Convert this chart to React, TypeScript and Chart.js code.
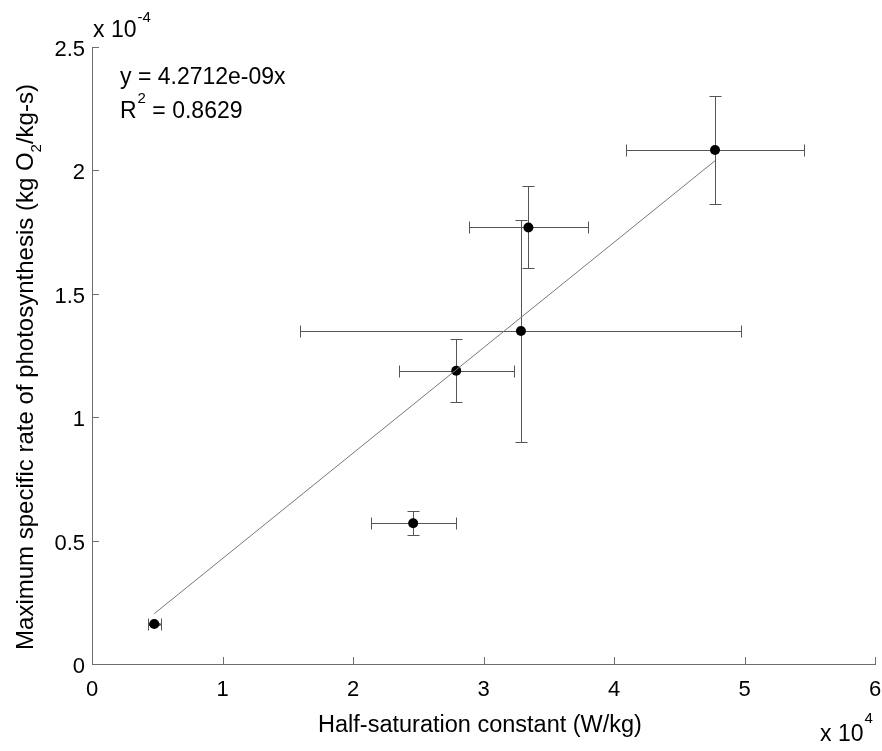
import React, { useEffect, useRef } from "react";
import { Chart, registerables } from "chart.js";

Chart.register(...registerables);

// Data in axis units (x in 1e4 W/kg, y in 1e-4 kg O2/kg-s)
const halfSat = [0.477, 2.461, 2.791, 3.287, 3.344, 4.774];
const maxRate = [0.162, 0.570, 1.188, 1.349, 1.769, 2.083];
const halfSatErr = [0.048, 0.326, 0.442, 1.69, 0.455, 0.682];
const maxRateErr = [0.004, 0.048, 0.127, 0.449, 0.166, 0.22];
const fitSlope = 0.42712; // 4.2712e-09 in scaled units
const xTicks = [0, 1, 2, 3, 4, 5, 6];
const yTicks = [0, 0.5, 1, 1.5, 2, 2.5];
const yTickLabels = ["0", "0.5", "1", "1.5", "2", "2.5"];
const xTickLabels = ["0", "1", "2", "3", "4", "5", "6"];

const FONT = '"Liberation Sans", Arial, sans-serif';

const overlayPlugin = {
  id: "overlay",
  beforeDatasetsDraw(chart: any) {
    const ctx = chart.ctx;
    const xs = chart.scales.x;
    const ys = chart.scales.y;
    ctx.save();
    ctx.strokeStyle = "#555";
    ctx.lineWidth = 1;
    const cap = 6;
    for (let i = 0; i < halfSat.length; i++) {
      const px = Math.round(xs.getPixelForValue(halfSat[i])) + 0.5;
      const py = Math.round(ys.getPixelForValue(maxRate[i])) + 0.5;
      const xl = Math.round(xs.getPixelForValue(halfSat[i] - halfSatErr[i])) + 0.5;
      const xr = Math.round(xs.getPixelForValue(halfSat[i] + halfSatErr[i])) + 0.5;
      const yt = Math.round(ys.getPixelForValue(maxRate[i] + maxRateErr[i])) + 0.5;
      const yb = Math.round(ys.getPixelForValue(maxRate[i] - maxRateErr[i])) + 0.5;
      ctx.beginPath();
      ctx.moveTo(xl, py); ctx.lineTo(xr, py);
      ctx.moveTo(xl, py - cap); ctx.lineTo(xl, py + cap);
      ctx.moveTo(xr, py - cap); ctx.lineTo(xr, py + cap);
      ctx.moveTo(px, yt); ctx.lineTo(px, yb);
      ctx.moveTo(px - cap, yt); ctx.lineTo(px + cap, yt);
      ctx.moveTo(px - cap, yb); ctx.lineTo(px + cap, yb);
      ctx.stroke();
    }
    ctx.restore();
  },
  afterDraw(chart: any) {
    const ctx = chart.ctx;
    const xs = chart.scales.x;
    const ys = chart.scales.y;
    const area = chart.chartArea;
    ctx.save();
    // inward ticks
    ctx.strokeStyle = "#6e6e6e";
    ctx.lineWidth = 1;
    ctx.beginPath();
    xTicks.forEach((t) => {
      const p = Math.round(xs.getPixelForValue(t)) + 0.5;
      ctx.moveTo(p, area.bottom);
      ctx.lineTo(p, area.bottom - 7);
    });
    yTicks.forEach((t) => {
      const p = Math.round(ys.getPixelForValue(t)) + 0.5;
      ctx.moveTo(area.left, p);
      ctx.lineTo(area.left + 7, p);
    });
    ctx.stroke();

    ctx.fillStyle = "#000";
    ctx.textBaseline = "alphabetic";
    // annotation
    ctx.font = `23px ${FONT}`;
    ctx.textAlign = "left";
    ctx.fillText("y = 4.2712e-09x", 120, 84);
    ctx.fillText("R", 120, 118);
    let w = ctx.measureText("R").width;
    ctx.font = `15px ${FONT}`;
    ctx.fillText("2", 120 + w + 1, 103);
    const w2 = ctx.measureText("2").width;
    ctx.font = `23px ${FONT}`;
    ctx.fillText(" = 0.8629", 120 + w + 1 + w2, 118);

    // y exponent
    ctx.fillText("x 10", 93, 37);
    w = ctx.measureText("x 10").width;
    ctx.font = `15px ${FONT}`;
    ctx.fillText("-4", 93 + w + 1, 22);

    // x exponent
    ctx.font = `23px ${FONT}`;
    ctx.fillText("x 10", 820, 741);
    w = ctx.measureText("x 10").width;
    ctx.font = `15px ${FONT}`;
    ctx.fillText("4", 820 + w + 1, 723);

    // x title
    ctx.font = `23.5px ${FONT}`;
    ctx.textAlign = "center";
    ctx.fillText("Half-saturation constant (W/kg)", 480, 732);

    // y title with subscript
    const part1 = "Maximum specific rate of photosynthesis (kg O";
    const sub = "2";
    const part2 = "/kg-s)";
    ctx.font = `24px ${FONT}`;
    const w1 = ctx.measureText(part1).width;
    const w3 = ctx.measureText(part2).width;
    ctx.font = `15px ${FONT}`;
    const ws = ctx.measureText(sub).width;
    const total = w1 + ws + w3;
    ctx.translate(33, 367);
    ctx.rotate(-Math.PI / 2);
    ctx.textAlign = "left";
    let x0 = -total / 2;
    ctx.font = `24px ${FONT}`;
    ctx.fillText(part1, x0, 0);
    x0 += w1;
    ctx.font = `15px ${FONT}`;
    ctx.fillText(sub, x0, 8);
    x0 += ws;
    ctx.font = `24px ${FONT}`;
    ctx.fillText(part2, x0, 0);
    ctx.restore();
  },
};

export default function App() {
  const ref = useRef<HTMLCanvasElement | null>(null);
  useEffect(() => {
    if (!ref.current) return;
    const points = halfSat.map((x, i) => ({ x, y: maxRate[i] }));
    const fitX = [halfSat[0], halfSat[halfSat.length - 1]];
    const fitLine = fitX.map((x) => ({ x, y: fitSlope * x }));
    const chart = new Chart(ref.current, {
      type: "scatter",
      data: {
        datasets: [
          {
            type: "line",
            data: fitLine,
            borderColor: "#777",
            borderWidth: 1,
            pointRadius: 0,
            fill: false,
          } as any,
          {
            type: "scatter",
            data: points,
            backgroundColor: "#000",
            borderColor: "#000",
            pointRadius: 5,
            borderWidth: 0,
          },
        ],
      },
      options: {
        responsive: false,
        animation: false,
        events: [],
        layout: { padding: { left: 0, top: 47, right: 7, bottom: 0 } },
        plugins: { legend: { display: false }, tooltip: { enabled: false } },
        scales: {
          x: {
            type: "linear",
            min: 0,
            max: 6,
            afterFit: (s: any) => {
              s.height = 87;
              s.paddingLeft = 0;
              s.paddingRight = 0;
            },
            afterBuildTicks: (s: any) => { s.ticks = xTicks.map((v) => ({ value: v })); },
            grid: { display: false, drawTicks: false },
            border: { display: true, color: "#6e6e6e", width: 1 },
            ticks: {
              color: "#000",
              font: { family: FONT, size: 22 },
              padding: 13,
              maxRotation: 0,
              callback: (_v: any, i: number) => xTickLabels[i],
            },
          },
          y: {
            type: "linear",
            min: 0,
            max: 2.5,
            afterFit: (s: any) => {
              s.width = 92;
              s.paddingTop = 0;
              s.paddingBottom = 0;
            },
            afterBuildTicks: (s: any) => { s.ticks = yTicks.map((v) => ({ value: v })); },
            grid: { display: false, drawTicks: false },
            border: { display: true, color: "#6e6e6e", width: 1 },
            ticks: {
              color: "#000",
              font: { family: FONT, size: 22 },
              padding: 7,
              labelOffset: 3,
              callback: (_v: any, i: number) => yTickLabels[i],
            },
          },
        },
      },
      plugins: [overlayPlugin],
    });
    return () => chart.destroy();
  }, []);
  return (
    <div style={{ position: "absolute", left: 0, top: 0, width: 882, height: 751, background: "#fff" }}>
      <canvas ref={ref} width={882} height={751} style={{ display: "block" }} />
    </div>
  );
}
